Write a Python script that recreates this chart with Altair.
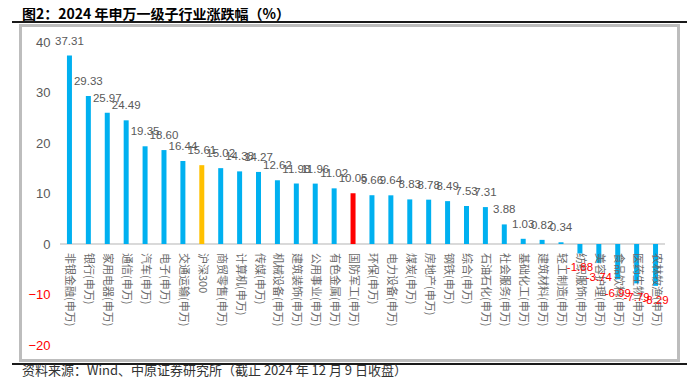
import altair as alt
import pandas as pd

title_text = "图2：2024 年申万一级子行业涨跌幅（%）"
source_text = "资料来源：Wind、中原证券研究所（截止 2024 年 12 月 9 日收盘）"

categories = [
    "非银金融(申万)", "银行(申万)", "家用电器(申万)", "通信(申万)", "汽车(申万)",
    "电子(申万)", "交通运输(申万)", "沪深300", "商贸零售(申万)", "计算机(申万)",
    "传媒(申万)", "机械设备(申万)", "建筑装饰(申万)", "公用事业(申万)", "有色金属(申万)",
    "国防军工(申万)", "环保(申万)", "电力设备(申万)", "煤炭(申万)", "房地产(申万)",
    "钢铁(申万)", "综合(申万)", "石油石化(申万)", "社会服务(申万)", "基础化工(申万)",
    "建筑材料(申万)", "轻工制造(申万)", "纺织服饰(申万)", "美容护理(申万)", "食品饮料(申万)",
    "医药生物(申万)", "农林牧渔(申万)",
]
values = [
    37.31, 29.33, 25.97, 24.49, 19.35, 18.60, 16.44, 15.61, 15.02, 14.38,
    14.27, 12.62, 11.98, 11.96, 11.02, 10.05, 9.66, 9.64, 8.83, 8.78,
    8.49, 7.53, 7.31, 3.88, 1.03, 0.82, 0.34, -1.88, -3.74, -6.99,
    -7.79, -8.29,
]
index_name = "沪深300"
highlight_name = "国防军工(申万)"
y_ticks = [-20, -10, 0, 10, 20, 30, 40]

kinds = ["index" if c == index_name else ("highlight" if c == highlight_name else "industry")
         for c in categories]
df = pd.DataFrame({
    "cat": categories,
    "value": values,
    "kind": kinds,
    "label": [f"{v:.2f}" for v in values],
})

# view = light-grey frame of the figure; plot region set via scale ranges
W, H = 659, 336
x_enc = alt.X("cat:N", sort=categories, axis=None,
              scale=alt.Scale(paddingInner=0, paddingOuter=0, range=[40, 645]))
y_scale = alt.Scale(domain=[-20, 40], nice=False, range=[320, 17])
y_axis = alt.Axis(values=y_ticks, title=None, grid=False, domain=False,
                  ticks=False, offset=-40, labelPadding=10, labelFontSize=13,
                  labelFont="Liberation Sans", zindex=1,
                  labelColor=alt.condition(alt.datum.value < 0,
                                           alt.value("#FF0000"), alt.value("#595959")))

base = alt.Chart(df)

bars = base.mark_bar(size=5).encode(
    x=x_enc,
    y=alt.Y("value:Q", scale=y_scale, axis=y_axis),
    color=alt.Color("kind:N", legend=None,
                    scale=alt.Scale(domain=["industry", "index", "highlight"],
                                    range=["#00B0F0", "#FFC000", "#FF0000"])),
)

zero_line = base.mark_rule(color="#D9D9D9", strokeWidth=1).encode(
    y=alt.datum(0), x=alt.value(40), x2=alt.value(645))

cat_labels = base.mark_text(
    angle=90, align="left", baseline="middle", dx=9, fontSize=11,
    font="Noto Sans CJK SC", color="#6B6B6B"
).encode(x=x_enc, y=alt.datum(0), text="cat:N")

pos_labels = base.transform_filter("datum.value >= 0").mark_text(
    baseline="middle", dy=-14, fontSize=11.5, font="Liberation Sans", color="#595959"
).encode(x=x_enc, y=alt.Y("value:Q", scale=y_scale), text="label:N")

neg_labels = base.transform_filter("datum.value < 0").mark_text(
    baseline="middle", dy=15, fontSize=11.5, font="Liberation Sans", color="#FF0000"
).encode(x=x_enc, y=alt.Y("value:Q", scale=y_scale), text="label:N")

one = pd.DataFrame({"t": [0]})

frame_color = "#BDBDBD"
frame_top = alt.Chart(one).mark_rule(color=frame_color, strokeWidth=2).encode(
    x=alt.value(0), x2=alt.value(W), y=alt.value(1))
frame_bottom = alt.Chart(one).mark_rule(color=frame_color, strokeWidth=2).encode(
    x=alt.value(0), x2=alt.value(W), y=alt.value(H - 1))
frame_left = alt.Chart(one).mark_rule(color=frame_color, strokeWidth=2).encode(
    x=alt.value(1), y=alt.value(0), y2=alt.value(H))
frame_right = alt.Chart(one).mark_rule(color=frame_color, strokeWidth=2).encode(
    x=alt.value(W - 1), y=alt.value(0), y2=alt.value(H))

top_line = alt.Chart(one).mark_rule(color="#1A1A1A", strokeWidth=2.2).encode(
    x=alt.value(-8), x2=alt.value(667), y=alt.value(-3))
bottom_line = alt.Chart(one).mark_rule(color="#1A1A1A", strokeWidth=2.2).encode(
    x=alt.value(-8), x2=alt.value(667), y=alt.value(339))

title = alt.Chart(one).mark_text(
    text=title_text, align="left", baseline="alphabetic", fontSize=14,
    fontWeight="bold", font="Noto Sans CJK SC", color="#000000"
).encode(x=alt.value(2), y=alt.value(-6))

source = alt.Chart(one).mark_text(
    text=source_text, align="left", baseline="alphabetic", fontSize=13,
    font="Noto Sans CJK SC", color="#333333"
).encode(x=alt.value(2), y=alt.value(350))

chart = alt.layer(
    zero_line, bars, cat_labels, pos_labels, neg_labels,
    frame_top, frame_bottom, frame_left, frame_right,
    top_line, bottom_line, title, source
).properties(
    width=W, height=H,
    autosize=alt.AutoSizeParams(type="none"),
    padding={"left": 12, "top": 17, "right": 13, "bottom": 17},
).configure_view(stroke=frame_color, strokeWidth=2)

chart.save("out.html", embed_options={"renderer": "svg", "actions": False})
